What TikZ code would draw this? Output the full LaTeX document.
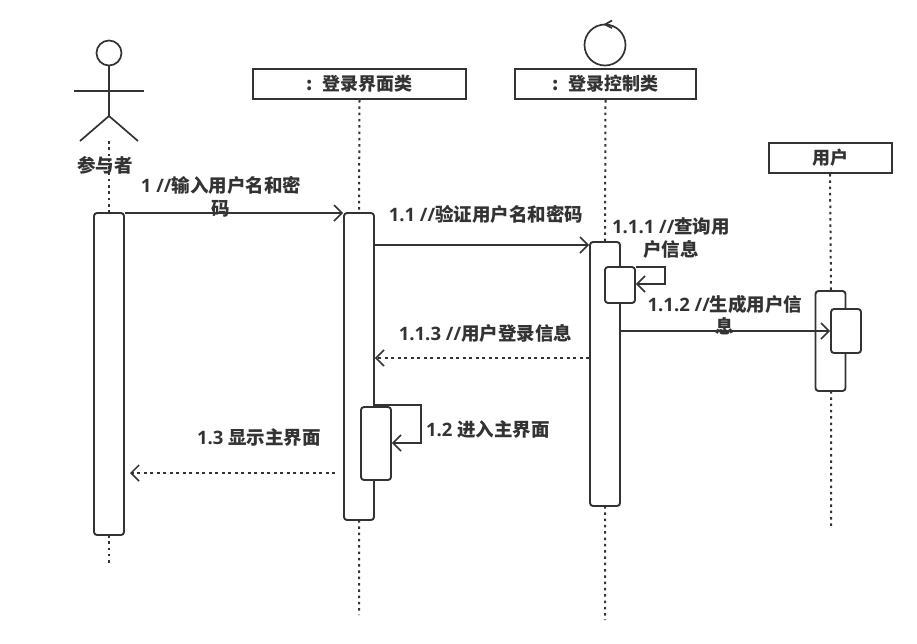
\documentclass[tikz,border=0pt]{standalone}
\usepackage{fontspec}
\setmainfont{Noto Sans CJK SC}
\newfontfamily\latinpart{Open Sans}
\usetikzlibrary{arrows.meta}
\definecolor{ink}{HTML}{333333}
\newcommand{\lt}[1]{{\latinpart\bfseries #1}}
\tikzset{
  x=1pt,y=-1pt,
  every path/.style={draw=ink,line width=1.7pt},
  lifebox/.style={draw=ink,line width=2pt,fill=white,minimum height=30pt,inner sep=0pt,font=\fontsize{18}{18}\selectfont\bfseries,text=ink},
  lifeline/.style={draw=ink,line width=2pt,dash pattern=on 2.5pt off 3.8pt},
  activation/.style={draw=ink,line width=1.9pt,fill=white,rounded corners=3pt,inner sep=0pt},
  caption/.style={draw=none,text=ink,align=center,inner sep=0pt,font=\fontsize{18.5}{22.5}\selectfont\bfseries},
  msg/.style={draw=ink,line width=1.5pt,-{Straight Barb[length=8pt,width=16pt,line width=1.5pt]}},
  reply/.style={msg,line width=1.8pt,dash pattern=on 3pt off 3.5pt},
}
\begin{document}
\begin{tikzpicture}
\useasboundingbox[draw=none,fill=white] (0,0) rectangle (917,643);
% actor figure
\coordinate (hip) at (109,116);
\draw (109,53) circle (12.5);
\draw (109,65.5) -- (hip);
\draw (74,91) -- (144,91);
\draw (80,141) -- (hip) -- (138,141);
% lifeline heads
\node[lifebox,minimum width=213pt] (ui) at (359.5,84) {:\hspace{9pt}登录界面类};
\node[lifebox,minimum width=181pt] (ctl) at (605.5,84) {:\hspace{9pt}登录控制类};
\node[lifebox,minimum width=123pt,minimum height=30pt] (usr) at (830,158) {用户};
% control symbol
\draw (605,45) circle (20.5);
\draw (612,20.5) -- (605,24.5) -- (612,28);
% activation bar ends
\coordinate (aT) at (109,213); \coordinate (aB) at (109,535);
\coordinate (bT) at (359,213); \coordinate (bB) at (359,520);
\coordinate (cT) at (605,242); \coordinate (cB) at (605,506);
\coordinate (dT) at (831,291); \coordinate (dB) at (831,391);
% lifelines
\coordinate (actorFoot) at (109,141);
\coordinate (aEnd) at (109,565);
\coordinate (bEnd) at (359,615);
\coordinate (cEnd) at (605,620);
\coordinate (dEnd) at (831,527);
\draw[lifeline] (actorFoot) -- (aT) (aB) -- (aEnd);
\draw[lifeline] (ui.south) -- (bT) (bB) -- (bEnd);
\draw[lifeline] (ctl.south) -- (cT) (cB) -- (cEnd);
\draw[lifeline] (usr.south) -- (dT) (dB) -- (dEnd);
% activations
\node[activation,minimum width=30pt,minimum height=322pt] (actA) at (109,374) {};
\node[activation,minimum width=30pt,minimum height=307pt] (actB) at (359,366.5) {};
\node[activation,minimum width=30pt,minimum height=264pt] (actC) at (605,374) {};
\node[activation,minimum width=30pt,minimum height=100pt] (actD) at (830.5,341) {};
\node[activation,minimum width=30pt,minimum height=36pt] (subC) at (620,285) {};
\node[activation,minimum width=30pt,minimum height=44pt] (subD) at (846,331) {};
\node[activation,minimum width=30pt,minimum height=73pt] (subB) at (376,443.5) {};
% messages
\draw[msg] (actA.east |- 0,213) -- (actB.west |- 0,213);
\draw[msg] (actB.east |- 0,245) -- (actC.west |- 0,245);
\draw[msg] (actC.east |- 0,331) -- (subD.west |- 0,331);
\draw[reply] (actC.west |- 0,358) -- (actB.east |- 0,358);
\draw[msg] (subC.east |- 0,267) -- (665,267) -- (665,284) -- (subC.east |- 0,284);
\draw[msg] (actB.east |- 0,405) -- (421,405) -- (421,443) -- (subB.east |- 0,443);
\coordinate (retFrom) at (335,473);
\coordinate (retTo) at (130,473);
\draw[reply] (retFrom) -- (retTo);
% labels
\node[caption] (lActor) at (105,165) {参与者};
\node[caption] (l1) at (221,197) {\lt{1 //}输入用户名和密\\码};
\node[caption] (l11) at (486,214) {\lt{1.1 //}验证用户名和密码};
\node[caption] (l111) at (671,238) {\lt{1.1.1 //}查询用\\户信息};
\node[caption] (l112) at (725,315) {\lt{1.1.2 //}生成用户信\\息};
\node[caption] (l113) at (485.5,333) {\lt{1.1.3 //}用户登录信息};
\node[caption] (l12) at (488,429) {\lt{1.2 }进入主界面};
\node[caption] (l13) at (259,437) {\lt{1.3 }显示主界面};
\end{tikzpicture}
\end{document}
